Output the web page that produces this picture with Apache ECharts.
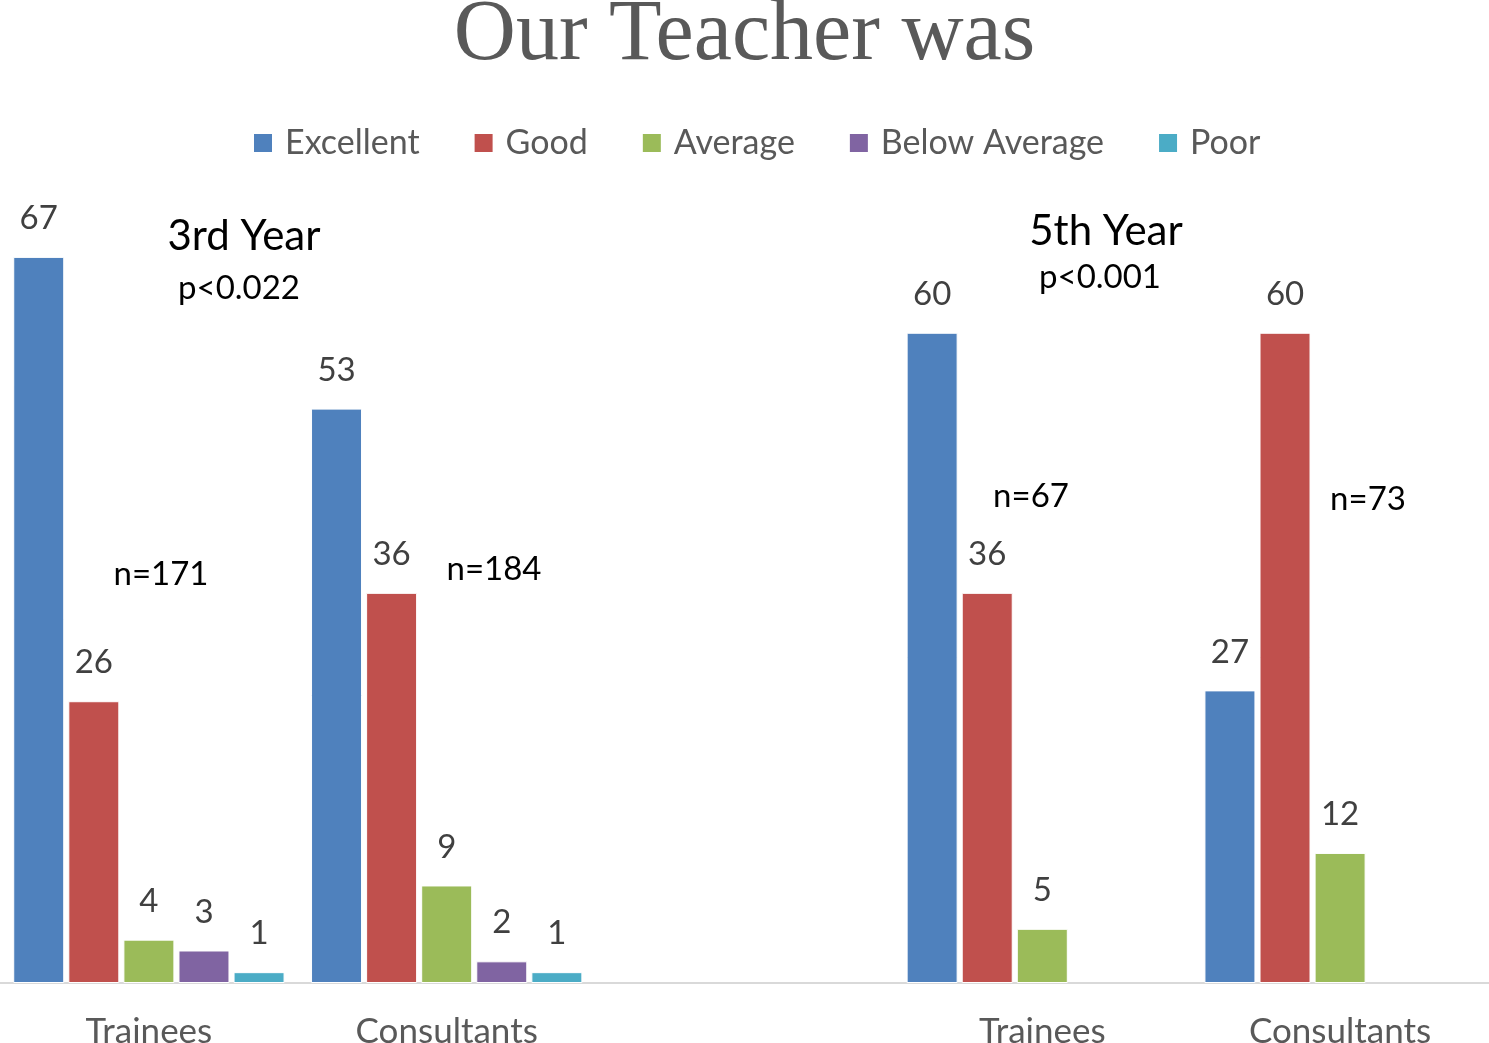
<!DOCTYPE html>
<html>
<head>
<meta charset="utf-8">
<script src="https://cdn.jsdelivr.net/npm/echarts@6/dist/echarts.min.js"></script>
<style>
html,body{margin:0;padding:0;background:#fff;}
#main{width:1489px;height:1043px;}
</style>
</head>
<body>
<div id="main"></div>
<script>
var categories = ['Trainees', 'Consultants', '', 'Trainees', 'Consultants'];
var seriesNames = ['Excellent', 'Good', 'Average', 'Below Average', 'Poor'];
var excellent = [67, 53, null, 60, 27];
var good = [26, 36, null, 36, 60];
var average = [4, 9, null, 5, 12];
var belowAverage = [3, 2, null, null, null];
var poor = [1, 1, null, null, null];
var colors = ['#4F81BD', '#C0504D', '#9BBB59', '#8064A2', '#4BACC6'];
var annotations = [
  {text: '3rd Year', x: 244, y: 236, size: 42},
  {text: 'p<0.022', x: 239, y: 288, size: 33},
  {text: 'n=171', x: 161, y: 574, size: 33},
  {text: 'n=184', x: 494, y: 569, size: 33},
  {text: '5th Year', x: 1106, y: 231, size: 42},
  {text: 'p<0.001', x: 1100, y: 277, size: 33},
  {text: 'n=67', x: 1031, y: 496, size: 33},
  {text: 'n=73', x: 1368, y: 499, size: 33}
];

var allData = [excellent, good, average, belowAverage, poor];
var FONT = 'Lato, "Open Sans", sans-serif';

var chart = echarts.init(document.getElementById('main'));
var series = allData.map(function (d, i) {
  return {
    name: seriesNames[i],
    type: 'bar',
    data: d,
    barWidth: 51,
    barGap: '8%',
    itemStyle: {color: colors[i], borderColor: '#ffffff', borderWidth: 1},
    label: {
      show: true,
      position: 'top',
      distance: 22,
      fontFamily: FONT,
      fontSize: 33,
      color: '#404040'
    }
  };
});

chart.setOption({
  animation: false,
  color: colors,
  title: {
    text: 'Our Teacher was',
    left: 'center',
    top: -12,
    textStyle: {
      fontFamily: '"Liberation Serif", serif',
      fontSize: 86,
      fontWeight: 'normal',
      color: '#595959'
    }
  },
  legend: {
    data: seriesNames,
    top: 121,
    left: 247,
    icon: 'rect',
    itemWidth: 20,
    itemHeight: 20,
    itemGap: 53,
    textStyle: {
      fontFamily: FONT,
      fontSize: 34,
      color: '#595959',
      padding: [0, 0, 0, 7]
    }
  },
  grid: {left: 0, right: 0, top: 116, bottom: 60, containLabel: false, outerBoundsMode: 'none'},
  xAxis: {
    type: 'category',
    data: categories,
    axisLine: {lineStyle: {color: '#d9d9d9', width: 2}},
    axisTick: {show: false},
    axisLabel: {
      fontFamily: FONT,
      fontSize: 35,
      color: '#595959',
      margin: 31,
      interval: 0
    }
  },
  yAxis: {
    type: 'value',
    min: 0,
    max: 80,
    show: false,
    splitLine: {show: false}
  },
  graphic: annotations.map(function (a) {
    return {
      type: 'text',
      x: a.x,
      y: a.y,
      style: {
        text: a.text,
        fontFamily: FONT,
        fontSize: a.size,
        fill: '#000000',
        textAlign: 'center',
        textVerticalAlign: 'middle'
      }
    };
  }),
  series: series
});
</script>
</body>
</html>
